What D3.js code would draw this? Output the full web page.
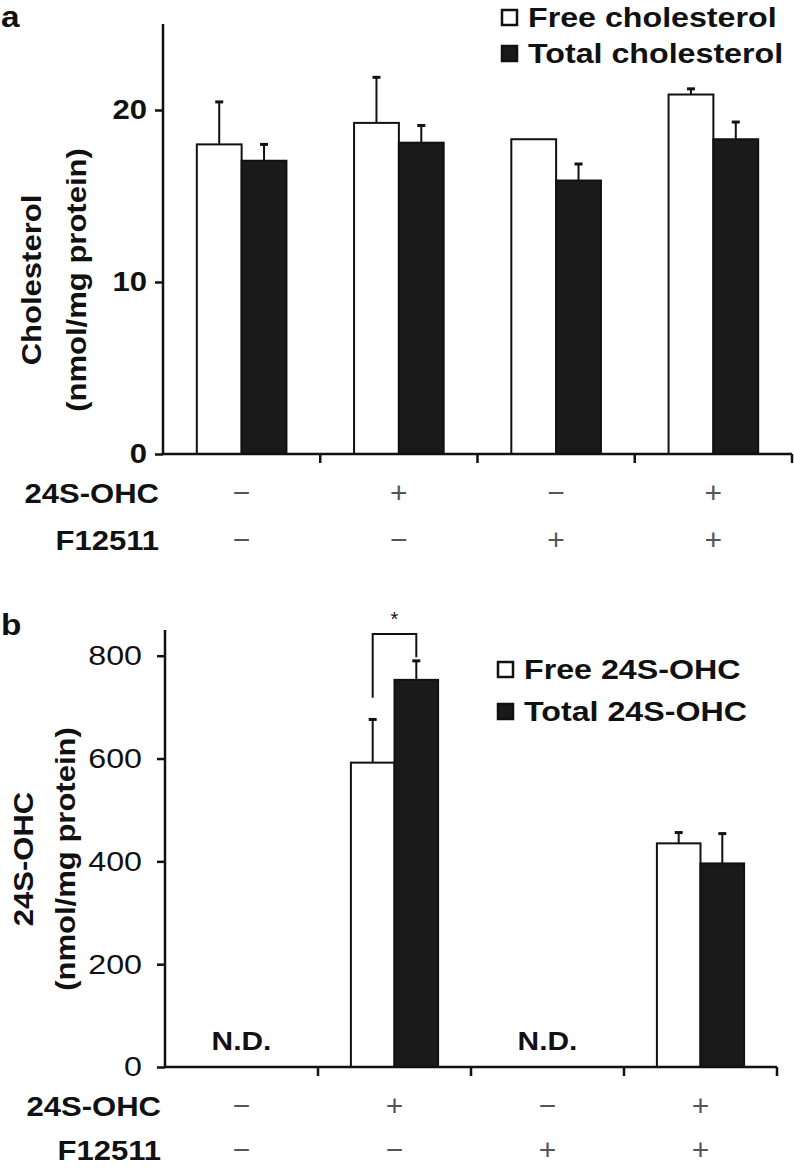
<!DOCTYPE html>
<html lang="en">
<head>
    <meta charset="UTF-8">
    <title>Cholesterol and 24S-OHC</title>
    <script src="https://d3js.org/d3.v7.min.js"></script>
    <style>
        body { margin: 0; background: #fff; }
        svg text { font-family: "Liberation Sans", Arial, sans-serif; fill: #111; }
        .bold { font-weight: bold; }
        .axis path, .axis line { stroke: #111; stroke-width: 2.5px; }
        .sign { font-weight: normal; fill: #555; }
    </style>
</head>
<body>
    <div id="chart"></div>
    <script>
        // treatment rows under each group
        const groups = ["g1", "g2", "g3", "g4"];
        const ohcRow = ["\u2212", "+", "\u2212", "+"];
        const f12511Row = ["\u2212", "\u2212", "+", "+"];
        const seriesKeys = ["free", "total"];

        // panel a: cholesterol (nmol/mg protein)
        const freeChol = [18.0, 19.25, 18.3, 20.9];
        const freeCholErr = [2.47, 2.65, 0, 0.33];
        const totalChol = [17.05, 18.1, 15.9, 18.3];
        const totalCholErr = [0.95, 1.0, 0.96, 1.0];
        const cholTicks = [0, 10, 20];

        // panel b: 24S-OHC (nmol/mg protein)
        const freeOhc = [0, 592, 0, 435];
        const freeOhcErr = [0, 84, 0, 21];
        const totalOhc = [0, 753, 0, 396];
        const totalOhcErr = [0, 37, 0, 58];
        const notDetected = [true, false, true, false];
        const ohcTicks = [0, 200, 400, 600, 800];
        // significance bracket over group 2: left leg bottom, top, right leg bottom
        const bracket = {group: "g2", left: 718, top: 842, right: 797, label: "*"};

        const SX = 1.15; // the figure's lettering is a bit wide
        const FS = 27;

        const svg = d3.select("#chart").append("svg")
            .attr("width", 794)
            .attr("height", 1170);

        function stretchedText(g, x, y, str, opts) {
            opts = opts || {};
            return g.append("text")
                .attr("transform", `translate(${x},${y}) ${opts.rotate ? "rotate(-90)" : ""} scale(${SX},1)`)
                .attr("text-anchor", opts.anchor || "start")
                .attr("class", opts.cls || "bold")
                .style("font-size", (opts.size || FS) + "px")
                .text(str);
        }

        function drawPanel(cfg) {
            const g = svg.append("g");

            const x0 = d3.scaleBand()
                .domain(groups)
                .range([cfg.left, cfg.right])
                .paddingInner(0.43)
                .paddingOuter(0.215);

            const x1 = d3.scaleBand()
                .domain(seriesKeys)
                .range([0, x0.bandwidth()]);

            const y = d3.scaleLinear()
                .domain([0, cfg.max])
                .range([cfg.bottom, cfg.top]);

            const rows = groups.map((k, i) => ({
                key: k,
                bars: [
                    {key: "free", value: cfg.free[i], err: cfg.freeErr[i]},
                    {key: "total", value: cfg.total[i], err: cfg.totalErr[i]}
                ]
            }));

            const grp = g.append("g")
                .selectAll("g")
                .data(rows)
                .enter().append("g")
                .attr("transform", d => `translate(${x0(d.key)},0)`);

            // error bars (upper only) drawn behind bars
            const eb = grp.selectAll("g.err")
                .data(d => d.bars.filter(b => b.err > 0))
                .enter().append("g")
                .attr("class", "err");
            eb.append("line")
                .attr("x1", d => x1(d.key) + x1.bandwidth() / 2)
                .attr("x2", d => x1(d.key) + x1.bandwidth() / 2)
                .attr("y1", d => y(d.value))
                .attr("y2", d => y(d.value + d.err))
                .attr("stroke", "#111")
                .attr("stroke-width", 2);
            eb.append("line")
                .attr("x1", d => x1(d.key) + x1.bandwidth() / 2 - 4)
                .attr("x2", d => x1(d.key) + x1.bandwidth() / 2 + 4)
                .attr("y1", d => y(d.value + d.err))
                .attr("y2", d => y(d.value + d.err))
                .attr("stroke", "#111")
                .attr("stroke-width", 3);

            grp.selectAll("rect")
                .data(d => d.bars)
                .enter().append("rect")
                .attr("x", d => x1(d.key))
                .attr("y", d => y(d.value))
                .attr("width", x1.bandwidth())
                .attr("height", d => y(0) - y(d.value))
                .attr("fill", d => d.key === "free" ? "#fff" : "#1a1a1a")
                .attr("stroke", "#111")
                .attr("stroke-width", 2);

            // y axis
            const ya = g.append("g")
                .attr("class", "axis")
                .attr("transform", `translate(${cfg.left},0)`)
                .call(d3.axisLeft(y).tickValues(cfg.ticks).tickSize(8).tickPadding(cfg.tickPad).tickSizeOuter(0));
            ya.select(".domain").attr("d", `M0,${cfg.top}V${cfg.bottom}`);
            ya.selectAll("text")
                .attr("class", cfg.tickCls)
                .style("font-size", cfg.tickSize + "px")
                .attr("transform", `scale(${SX},1)`);

            // x axis: ticks between groups, no labels
            const edges = groups.map((k, i) => cfg.left + (cfg.right - cfg.left) * (i + 1) / groups.length);
            const xa = g.append("g").attr("class", "axis");
            xa.append("path")
                .attr("d", `M${cfg.left},${cfg.bottom}H${cfg.right}`)
                .attr("fill", "none");
            xa.selectAll("line")
                .data(edges)
                .enter().append("line")
                .attr("x1", d => d).attr("x2", d => d)
                .attr("y1", cfg.bottom).attr("y2", cfg.bottom + 9);

            // treatment rows
            const centers = groups.map(k => x0(k) + x0.bandwidth() / 2);
            stretchedText(g, cfg.left - 4, cfg.row1, "24S-OHC", {anchor: "end"});
            stretchedText(g, cfg.left - 4, cfg.row2, "F12511", {anchor: "end"});
            g.append("g").selectAll("text")
                .data(ohcRow)
                .enter().append("text")
                .attr("class", "sign")
                .attr("x", (d, i) => centers[i])
                .attr("y", cfg.row1)
                .attr("text-anchor", "middle")
                .style("font-size", "30px")
                .text(d => d);
            g.append("g").selectAll("text")
                .data(f12511Row)
                .enter().append("text")
                .attr("class", "sign")
                .attr("x", (d, i) => centers[i])
                .attr("y", cfg.row2)
                .attr("text-anchor", "middle")
                .style("font-size", "30px")
                .text(d => d);

            // y label, two lines
            const mid = cfg.labelY;
            stretchedText(g, cfg.labelX1, mid, cfg.label1, {anchor: "middle", rotate: true});
            stretchedText(g, cfg.labelX2, mid, cfg.label2, {anchor: "middle", rotate: true});

            // panel letter
            stretchedText(g, 1, cfg.letterY, cfg.letter, {size: 29});

            // legend
            const lg = g.append("g")
                .selectAll("g")
                .data(seriesKeys)
                .enter().append("g")
                .attr("transform", (d, i) => `translate(${cfg.legX},${cfg.legY + i * cfg.legStep})`);
            lg.append("rect")
                .attr("x", 1).attr("y", -17)
                .attr("width", 15).attr("height", 15)
                .attr("fill", d => d === "free" ? "#fff" : "#1a1a1a")
                .attr("stroke", "#111")
                .attr("stroke-width", 2.5);
            lg.each(function (d, i) {
                stretchedText(d3.select(this), 27, 0, cfg.legend[i], {size: 28});
            });

            return {g, x0, x1, y};
        }

        drawPanel({
            left: 163, right: 792, top: 24, bottom: 454, max: 25,
            free: freeChol, freeErr: freeCholErr, total: totalChol, totalErr: totalCholErr,
            ticks: cholTicks, tickPad: 6, tickCls: "bold", tickSize: 27,
            row1: 503, row2: 550,
            label1: "Cholesterol", label2: "(nmol/mg protein)", labelX1: 41, labelX2: 86, labelY: 280,
            letter: "a", letterY: 27,
            legX: 501, legY: 27, legStep: 36,
            legend: ["Free cholesterol", "Total cholesterol"]
        });

        const pb = drawPanel({
            left: 165, right: 777, top: 630, bottom: 1067, max: 850,
            free: freeOhc, freeErr: freeOhcErr, total: totalOhc, totalErr: totalOhcErr,
            ticks: ohcTicks, tickPad: 12, tickCls: "", tickSize: 28,
            row1: 1116, row2: 1160,
            label1: "24S-OHC", label2: "(nmol/mg protein)", labelX1: 33, labelX2: 75, labelY: 859,
            letter: "b", letterY: 635,
            legX: 497, legY: 679, legStep: 42,
            legend: ["Free 24S-OHC", "Total 24S-OHC"]
        });

        // N.D. labels
        groups.forEach((k, i) => {
            if (!notDetected[i]) return;
            stretchedText(pb.g, pb.x0(k) + pb.x0.bandwidth() / 2, pb.y(0) - 17, "N.D.", {anchor: "middle", size: 26});
        });

        // significance bracket
        const bx = k => pb.x0(bracket.group) + pb.x1(k) + pb.x1.bandwidth() / 2;
        pb.g.append("path")
            .attr("d", `M${bx("free")},${pb.y(bracket.left)}V${pb.y(bracket.top)}H${bx("total")}V${pb.y(bracket.right)}`)
            .attr("fill", "none")
            .attr("stroke", "#111")
            .attr("stroke-width", 2);
        pb.g.append("text")
            .attr("x", (bx("free") + bx("total")) / 2)
            .attr("y", pb.y(bracket.top) - 8)
            .attr("text-anchor", "middle")
            .style("font-size", "20px")
            .text(bracket.label);
    </script>
</body>
</html>
